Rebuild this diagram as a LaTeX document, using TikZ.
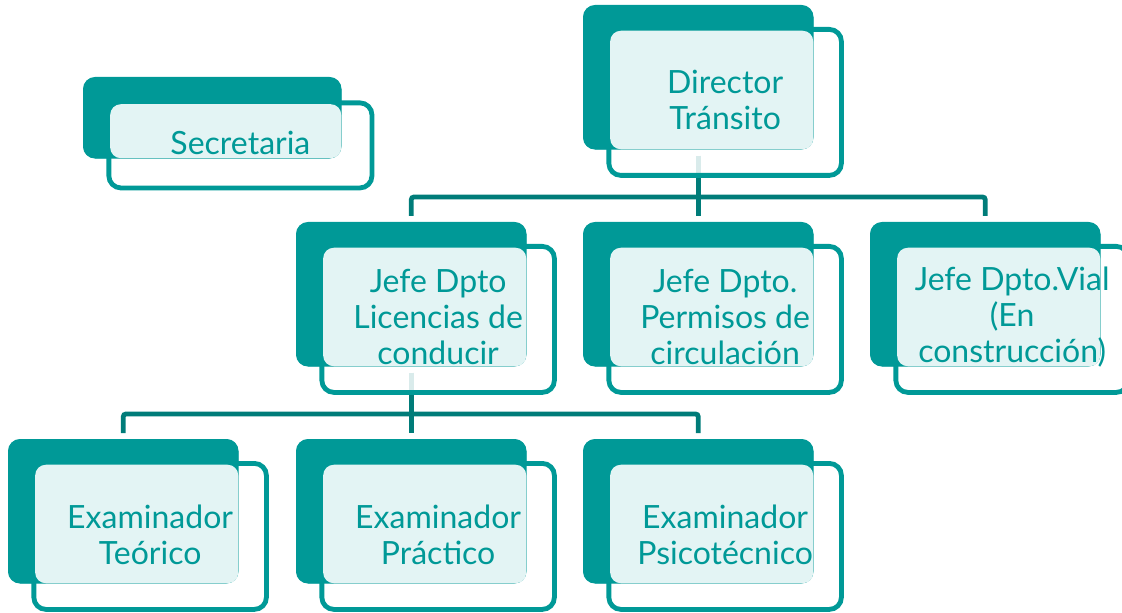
\documentclass[tikz,border=0pt]{standalone}
\usepackage{fontspec}
\setmainfont{Lato}
\usepackage{xcolor}
\usepackage{tikz}
\usetikzlibrary{positioning,calc}

\definecolor{tealdark}{RGB}{0,153,151}
\definecolor{tealline}{RGB}{0,124,121}
\definecolor{teallight}{RGB}{227,244,244}

\begin{document}
\begin{tikzpicture}[x=0.75pt, y=-0.75pt,
    backbox/.style={rectangle, rounded corners=9pt, fill=tealdark, inner sep=0pt,
        minimum width=172.5pt, minimum height=108pt, anchor=north west},
    frontbox/.style={rectangle, rounded corners=9pt, draw=tealdark, line width=3.6pt,
        fill=white, fill opacity=0.85, inner sep=0pt,
        minimum width=174.4pt, minimum height=109.5pt, anchor=north west},
    lightbox/.style={rectangle, rounded corners=8pt, fill=teallight, inner sep=0pt,
        minimum width=152.3pt, minimum height=88.9pt, anchor=north west},
    label/.style={align=center, text=tealdark, inner sep=0pt, yshift=1.5pt,
        font=\fontsize{24}{27}\selectfont},
    conn/.style={draw=tealline, line width=3.6pt, rounded corners=2pt}]
    \useasboundingbox (0,0) rectangle (1122,613);

    % Bus points
    \coordinate (bus1) at (698,197);
    \coordinate (bus2) at (411,414);

    % Back boxes
    \path (83,77) node[backbox, minimum width=193.5pt, minimum height=60.75pt](sec-b){};
    \path (583,5) node[backbox](dir-b){};
    \path (296,222) node[backbox](lic-b){};
    \path (583,222) node[backbox](perm-b){};
    \path (870,222) node[backbox](vial-b){};
    \path (8,439) node[backbox](teo-b){};
    \path (296,439) node[backbox](prac-b){};
    \path (583,439) node[backbox](psi-b){};

    % Connectors
    \draw[conn] ([yshift=-4.5pt]dir-b.south) -- ([yshift=4.5pt]perm-b.north);
    \draw[conn] ([yshift=4.5pt]lic-b.north) |- (bus1) -| ([yshift=4.5pt]vial-b.north);
    \draw[conn] ([yshift=-4.5pt]lic-b.south) -- ([yshift=4.5pt]prac-b.north);
    \draw[conn] ([yshift=4.5pt]teo-b.north) |- (bus2) -| ([yshift=4.5pt]psi-b.north);

    % Front boxes
    \node[frontbox, minimum width=197.3pt, minimum height=63.8pt]
        at ([xshift=17.6pt, yshift=-17.6pt]sec-b.north west) (sec-f){};
    \foreach \n in {dir, lic, perm, vial, teo, prac, psi}
        \node[frontbox] at ([xshift=17.6pt, yshift=-16.5pt]\n-b.north west) (\n-f){};

    % Back boxes again, over the fronts
    \foreach \n in {sec, dir, lic, perm, vial, teo, prac, psi}
        \fill[tealdark, rounded corners=9pt] (\n-b.north west) rectangle (\n-b.south east);

    % Light text areas
    \node[lightbox, minimum width=173.3pt, minimum height=40.5pt]
        at ([xshift=2.6pt, yshift=-2.6pt]sec-f.north west) (sec-l){};
    \foreach \n in {dir, lic, perm, vial, teo, prac, psi}
        \node[lightbox] at ([xshift=2.6pt, yshift=-2.6pt]\n-f.north west) (\n-l){};

    % Texts
    \node[label] (sec) at (sec-f.center) {Secretaria};
    \node[label] (dir) at (dir-f.center) {Director\\Tránsito};
    \node[label] (lic) at (lic-f.center) {Jefe Dpto\\Licencias de\\conducir};
    \node[label] (perm) at (perm-f.center) {Jefe Dpto.\\Permisos de\\circulación};
    \node[label] (vial) at (vial-f.center) {Jefe Dpto.Vial\\(En\\construcción)};
    \node[label] (teo) at (teo-f.center) {Examinador\\Teórico};
    \node[label] (prac) at (prac-f.center) {Examinador\\Práctico};
    \node[label] (psi) at (psi-f.center) {Examinador\\Psicotécnico};
\end{tikzpicture}
\end{document}
